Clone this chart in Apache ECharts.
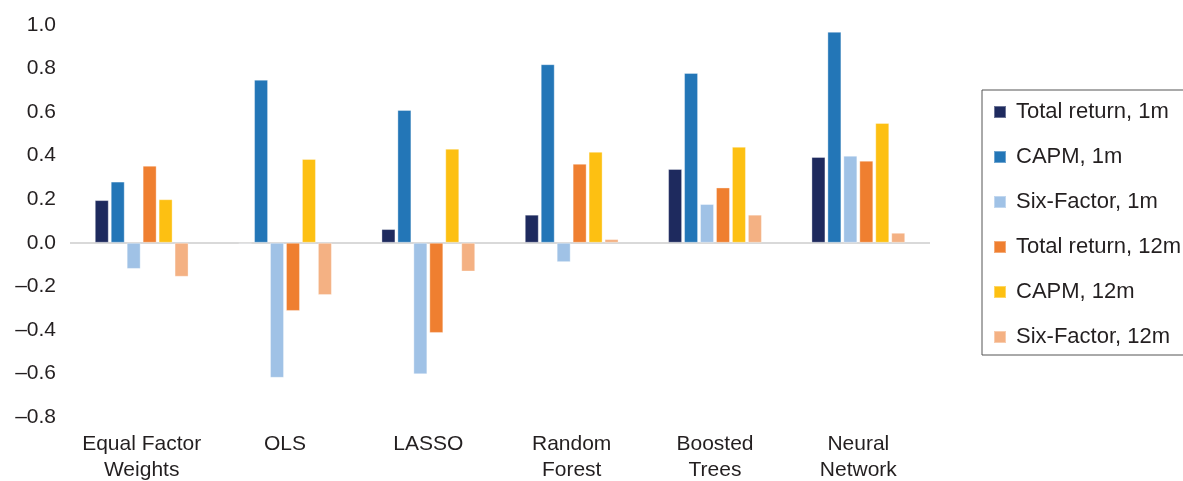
<!DOCTYPE html>
<html>
<head>
<meta charset="utf-8">
<script src="https://cdn.jsdelivr.net/npm/echarts@6/dist/echarts.min.js"></script>
<style>
html,body{margin:0;padding:0;background:#fff;}
#chart{width:1183px;height:481px;}
</style>
</head>
<body>
<div id="chart"></div>
<script>
const categories = ['Equal Factor\nWeights', 'OLS', 'LASSO', 'Random\nForest', 'Boosted\nTrees', 'Neural\nNetwork'];
const seriesNames = ['Total return, 1m', 'CAPM, 1m', 'Six-Factor, 1m', 'Total return, 12m', 'CAPM, 12m', 'Six-Factor, 12m'];
const totalReturn1m = [0.196, -0.005, 0.063, 0.129, 0.339, 0.394];
const capm1m = [0.281, 0.749, 0.610, 0.820, 0.780, 0.969];
const sixFactor1m = [-0.120, -0.620, -0.604, -0.089, 0.178, 0.400];
const totalReturn12m = [0.354, -0.313, -0.414, 0.363, 0.254, 0.377];
const capm12m = [0.200, 0.385, 0.432, 0.418, 0.441, 0.550];
const sixFactor12m = [-0.156, -0.240, -0.132, 0.017, 0.129, 0.046];
const yTicks = [-0.8, -0.6, -0.4, -0.2, 0.0, 0.2, 0.4, 0.6, 0.8, 1.0];

const colors = ['#1e2a5e', '#2376b7', '#a0c2e6', '#ef7f30', '#fdc012', '#f4b183'];
const allData = [totalReturn1m, capm1m, sixFactor1m, totalReturn12m, capm12m, sixFactor12m];
const FONT = 'Liberation Sans';

const series = seriesNames.map((name, i) => {
  const s = {
    name: name,
    type: 'bar',
    data: allData[i],
    barWidth: 14,
    barGap: '14%',
    itemStyle: { color: colors[i], borderColor: 'rgba(255,255,255,0.35)', borderWidth: 1 },
    emphasis: { disabled: true }
  };
  if (i === 0) {
    s.markLine = {
      silent: true,
      symbol: 'none',
      label: { show: false },
      lineStyle: { color: '#d9d9d9', width: 2, type: 'solid' },
      data: [{ yAxis: 0 }],
      z: 1
    };
  }
  return s;
});

const chart = echarts.init(document.getElementById('chart'));
chart.setOption({
  animation: false,
  color: colors,
  grid: { left: 70, right: 253, top: 25, bottom: 64, containLabel: false, outerBoundsMode: 'none' },
  legend: {
    orient: 'vertical',
    left: 982,
    top: 90,
    padding: [11, 40, 7, 11],
    borderColor: '#555',
    borderWidth: 1,
    itemWidth: 12,
    itemHeight: 12,
    itemGap: 23,
    icon: 'rect',
    textStyle: { fontFamily: FONT, fontSize: 22, color: '#231f20', lineHeight: 20, padding: [0, 0, 0, 5] },
    data: seriesNames
  },
  xAxis: {
    type: 'category',
    data: categories,
    axisLine: { show: false, onZero: false },
    axisTick: { show: false },
    axisLabel: { fontFamily: FONT, fontSize: 21, color: '#231f20', lineHeight: 26, margin: 14, interval: 0 }
  },
  yAxis: {
    type: 'value',
    min: -0.8,
    max: 1.0,
    interval: 0.2,
    splitLine: { show: false },
    axisLine: { show: false },
    axisTick: { show: false },
    axisLabel: {
      fontFamily: FONT, fontSize: 21, color: '#231f20', margin: 14,
      formatter: function (v) {
        const r = Math.round(v * 10) / 10;
        const t = yTicks.find(x => Math.abs(x - r) < 1e-9);
        const val = t === undefined ? r : t;
        const s = Math.abs(val).toFixed(1);
        return val < 0 ? '\u2013' + s : s;
      }
    }
  },
  series: series
});
</script>
</body>
</html>
